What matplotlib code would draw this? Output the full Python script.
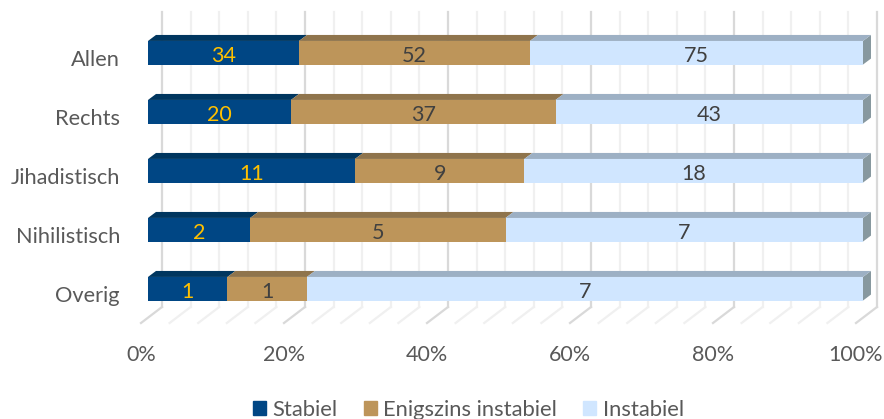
import numpy as np
import matplotlib
matplotlib.use("Agg")
import matplotlib.pyplot as plt
from matplotlib.patches import Polygon, Patch

categories = ["Allen", "Rechts", "Jihadistisch", "Nihilistisch", "Overig"]
stabiel = [34, 20, 11, 2, 1]
enigszins = [52, 37, 9, 5, 1]
instabiel = [75, 43, 18, 7, 7]
series_names = ["Stabiel", "Enigszins instabiel", "Instabiel"]
ticks = [0, 20, 40, 60, 80, 100]
tick_labels = ["0%", "20%", "40%", "60%", "80%", "100%"]

front = ["#004684", "#BD955A", "#D0E6FF"]
tops = ["#00365F", "#8F744C", "#9DB0C4"]
side = "#87989F"
label_colors = ["#FFC000", "#404040", "#404040"]
grey = "#595959"

plt.rcParams["font.family"] = ["Lato", "DejaVu Sans"]
W, H = 884, 419
fig = plt.figure(figsize=(W / 100, H / 100), dpi=100)
L, R, T, B = 148, 863, 12, 323
ax = fig.add_axes([L / W, 1 - B / H, (R - L) / W, (B - T) / H])
ppct = (R - L) / 100
pcat = 59.0
y0 = 52.75
ax.set_xlim(0, 100)
ax.set_ylim((B - y0) / pcat, (T - y0) / pcat)
ax.axis("off")

back_dx, floor_dx = 14 / ppct, -7 / ppct
back_top = (T - y0) / pcat
back_bot = (307 - y0) / pcat
floor = (323 - y0) / pcat
for v in np.arange(0, 101, 4):
    major = v % 20 == 0
    c = "#D9D9D9" if major else "#F0F0F0"
    ax.plot([v + back_dx] * 2, [back_top, back_bot], color=c, lw=1.6, clip_on=False, zorder=1)
    ax.plot([v + back_dx, v + floor_dx], [back_bot, floor], color=c, lw=1.6, clip_on=False, zorder=1)

vals = np.array([stabiel, enigszins, instabiel], dtype=float)
pct = vals / vals.sum(axis=0) * 100
ddx, ddy = 8 / ppct, 6 / pcat
h = 23.6 / pcat
ypos = np.arange(len(categories))
left = np.zeros(len(categories))
for s in range(3):
    ax.barh(ypos, pct[s], left=left, height=h, color=front[s], edgecolor="none", zorder=3)
    for i in ypos:
        a, b = left[i], left[i] + pct[s][i]
        t = i - h / 2
        ax.add_patch(Polygon([(a, t), (a + ddx, t - ddy), (b + ddx, t - ddy), (b, t)],
                             closed=True, fc=tops[s], ec="none", zorder=3 + s * 0.1, clip_on=False))
        if s == 2:
            ax.add_patch(Polygon([(b, t), (b + ddx, t - ddy), (b + ddx, t - ddy + h), (b, t + h)],
                                 closed=True, fc=side, ec="none", zorder=3, clip_on=False))
        ax.text((a + b) / 2, i + 0.05, f"{int(vals[s][i])}", ha="center", va="center",
                fontsize=15.5, color=label_colors[s], zorder=5)
    left = left + pct[s]

for i, c in enumerate(categories):
    ax.text(-28 / ppct, i + 0.115, c, ha="right", va="center", fontsize=15.7, color=grey, clip_on=False)
tick_y = (354.5 - y0) / pcat
for v, l in zip(ticks, tick_labels):
    ax.text(v + floor_dx, tick_y, l, ha="center", va="center", fontsize=15.5, color=grey, clip_on=False)

handles = [Patch(color=c, label=n) for c, n in zip(front, series_names)]
fig.legend(handles=handles, loc="center", bbox_to_anchor=(468.5 / W, 1 - 410 / H), ncol=3, frameon=False,
           fontsize=15.8, labelcolor=grey, handlelength=0.58, handleheight=0.58, handletextpad=0.3,
           columnspacing=1.2, borderpad=0)
fig.savefig("out.png", dpi=100)
